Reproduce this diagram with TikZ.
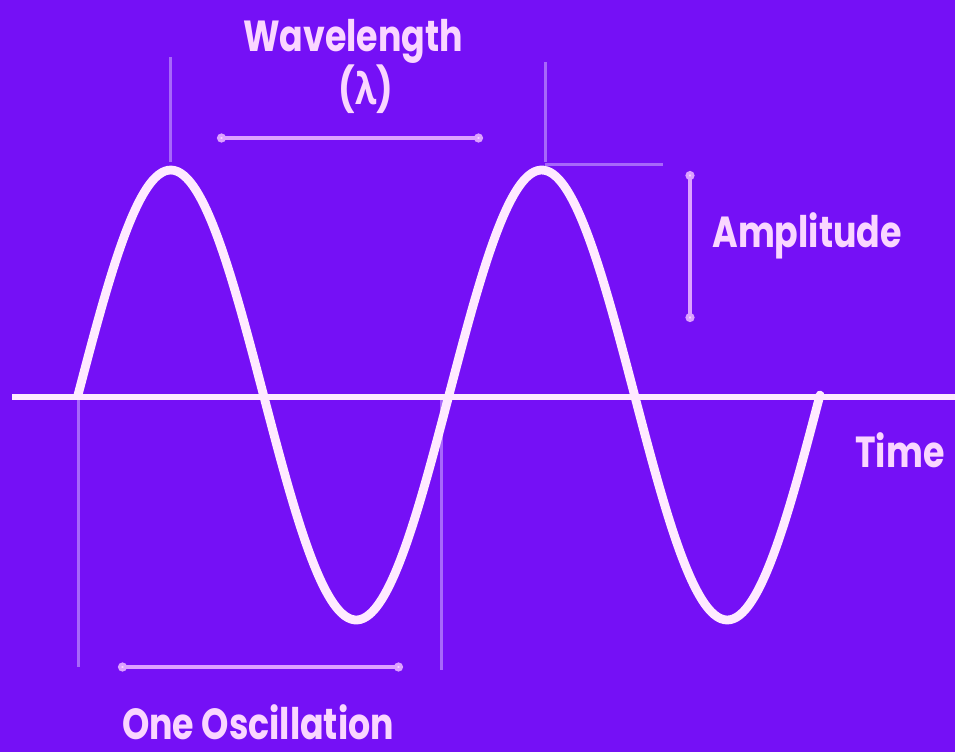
\documentclass[tikz,border=0pt]{standalone}
\usepackage{fontspec}
\setmainfont{Poppins}
\newfontfamily\grk{Open Sans}
\usepackage{graphicx}
\usepackage{tikz}
\usetikzlibrary{arrows.meta,positioning,calc}
\definecolor{bg}{HTML}{7510F6}
\definecolor{wave}{HTML}{FFEAFF}
\definecolor{dim}{HTML}{DDA2FF}
\definecolor{guide}{HTML}{A767FA}
\definecolor{txt}{HTML}{FAD6FF}
\newcommand{\tall}[1]{\scalebox{1}[1.25]{#1}}

\begin{document}
\begin{tikzpicture}[x=0.5pt,y=-0.5pt,
  lbl/.style={text=txt,font=\fontsize{17.4}{21}\selectfont\bfseries,inner sep=0pt,align=center},
  guideline/.style={draw=guide,line width=1.5pt},
  dimline/.style={draw=dim,line width=1.6pt,{Circle[length=4.5pt,fill=txt]}-{Circle[length=4.5pt,fill=txt]}},
  wavy/.style={draw=wave,line width=4.4pt,line cap=round,line join=round}]
\fill[bg] (0,0) rectangle (955,752);
\useasboundingbox (0,0) rectangle (955,752);

% time axis
\coordinate (ax0) at (12,397);
\coordinate (ax1) at (955,397);
\draw[draw=wave,line width=3pt] (ax0) -- (ax1);

% extension lines
\coordinate (p1) at (170,57);   \coordinate (p1b) at (170,162);
\coordinate (p2) at (545,62);   \coordinate (p2b) at (545,162);
\coordinate (q1) at (78,400);   \coordinate (q1b) at (78,667);
\coordinate (q2) at (441,400);  \coordinate (q2b) at (441,670);
\coordinate (h1) at (545,164);  \coordinate (h2) at (663,164);
\draw[guideline] (p1) -- (p1b);
\draw[guideline] (p2) -- (p2b);
\draw[guideline] (q1) -- (q1b);
\draw[guideline] (q2) -- (q2b);
\draw[guideline] (h1) -- (h2);

% the wave
\draw[wavy] plot[domain=78:820,samples=240,smooth] (\x,{395-225*sin((\x-78)/371*360)});

% dimension lines
\coordinate (wl0) at (217,138); \coordinate (wl1) at (483,138);
\coordinate (am0) at (690,171); \coordinate (am1) at (690,322);
\coordinate (os0) at (118,667); \coordinate (os1) at (403,667);
\draw[dimline] (wl0) -- (wl1);
\draw[dimline] (am0) -- (am1);
\draw[dimline] (os0) -- (os1);

% labels
\node[lbl,anchor=base] (wave) at (353,51) {\tall{Wavelength}};
\node[lbl,anchor=base] (lam) at (366,104) {\tall{({\grk\bfseries λ})}};
\node[lbl,anchor=base west] (amp) at (712,247) {\tall{Amplitude}};
\node[lbl,anchor=base west] (time) at (855,467) {\tall{Time}};
\node[lbl,anchor=base] (osc) at (258,739) {\tall{One Oscillation}};
\end{tikzpicture}
\end{document}
